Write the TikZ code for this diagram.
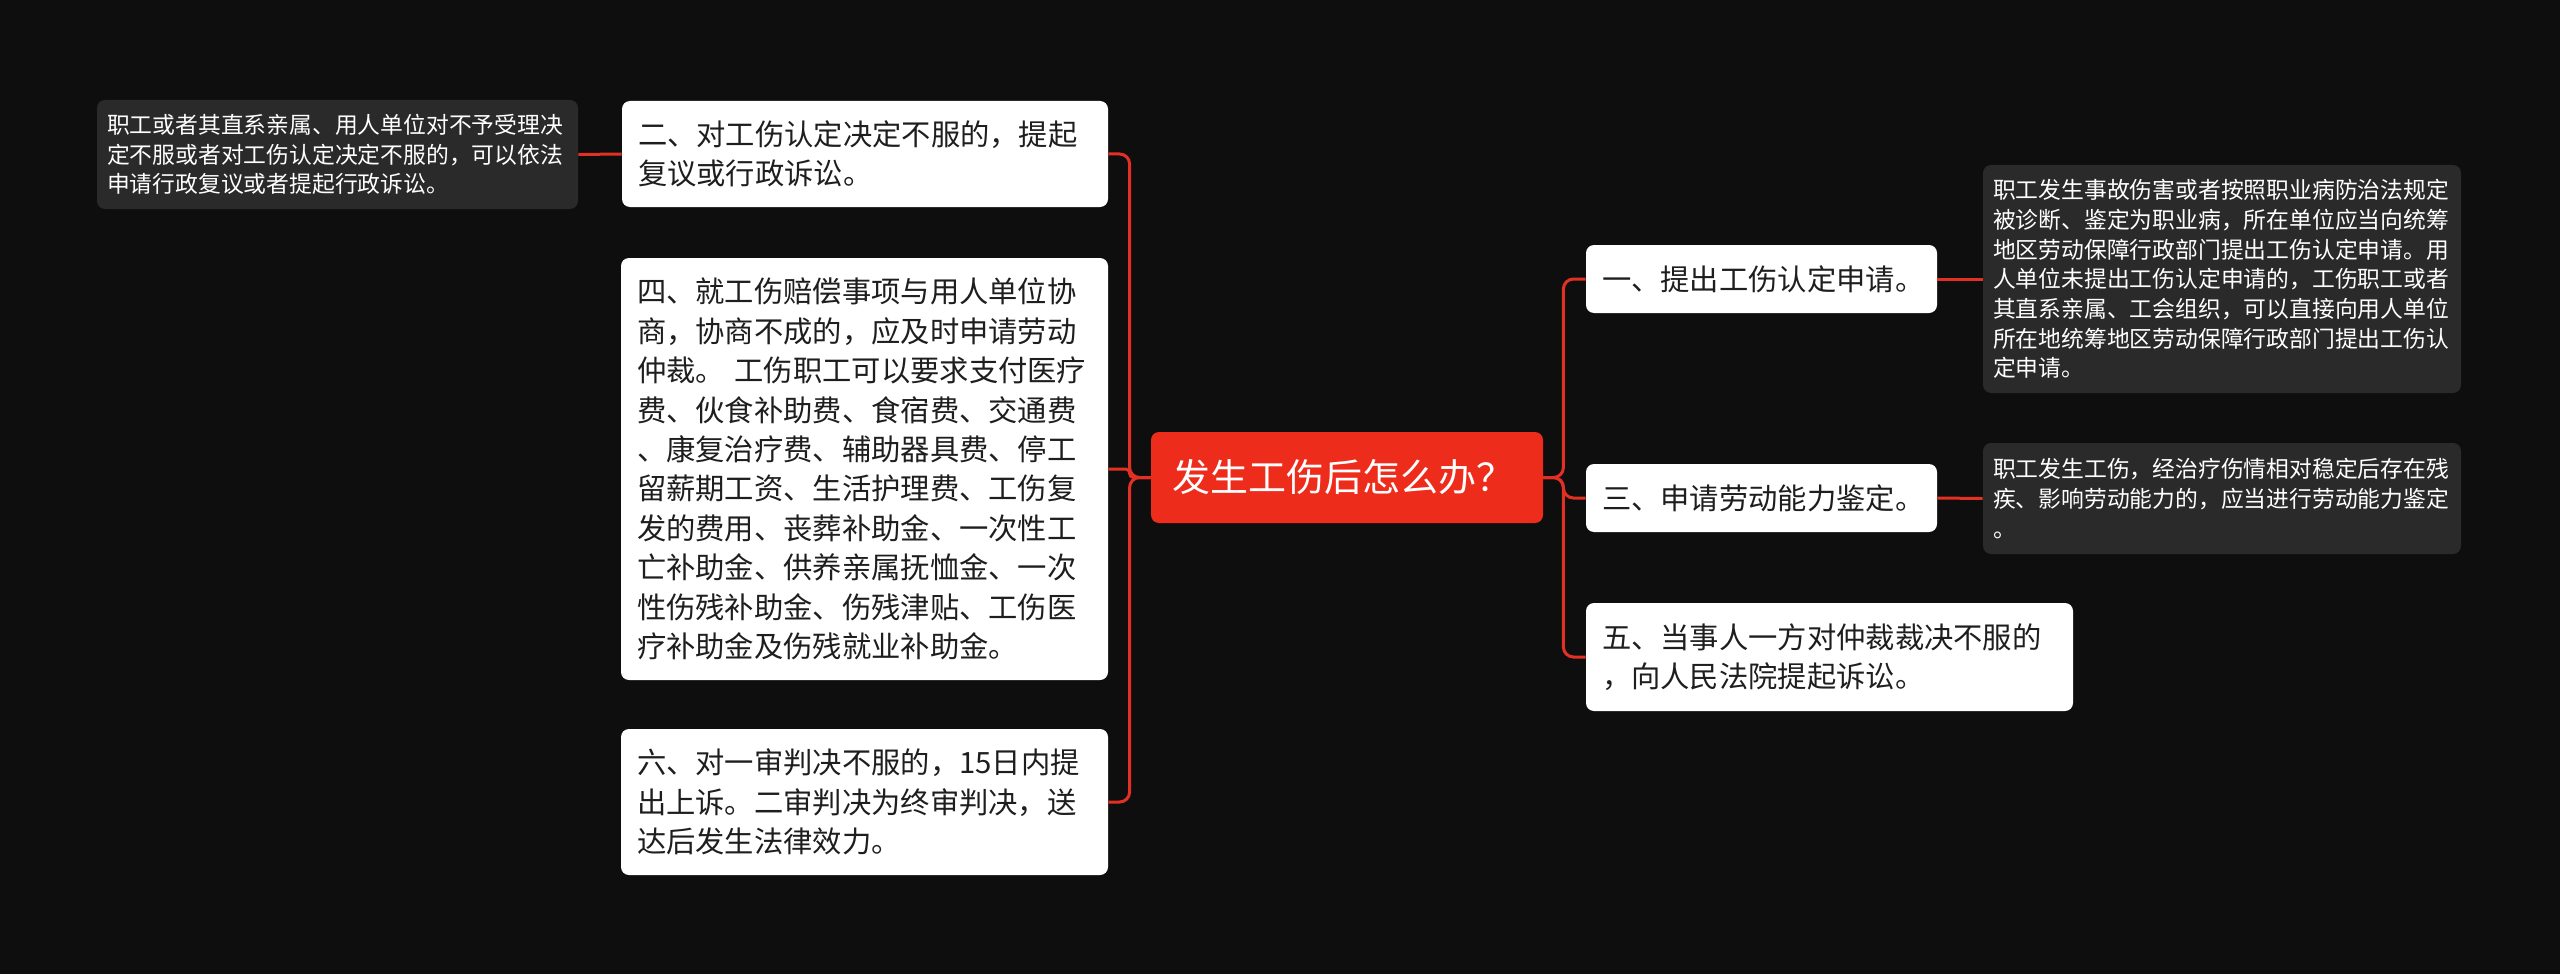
\documentclass[tikz,border=0pt]{standalone}
\usepackage{fontspec}
\setmainfont{Noto Sans CJK SC}
\definecolor{bgblack}{RGB}{14,14,14}
\definecolor{rootred}{RGB}{238,44,28}
\definecolor{linkred}{RGB}{226,48,36}
\definecolor{notegray}{RGB}{42,42,42}
\definecolor{textdark}{RGB}{30,30,30}

\begin{document}
\begin{tikzpicture}[x=0.5pt, y=-0.5pt,
    root/.style={fill=rootred, text=white, rounded corners=4pt, inner xsep=10.5pt, inner ysep=3pt,
      font=\fontsize{19}{23}\selectfont, align=left, text width=175pt, minimum height=45.5pt},
    topic/.style={fill=white, text=textdark, rounded corners=4pt, inner xsep=8pt, inner ysep=3pt,
      font=\fontsize{14.65}{19.7}\selectfont, align=left},
    note/.style={fill=notegray, text=white, rounded corners=4pt, inner xsep=5pt, inner ysep=3pt,
      font=\fontsize{11.4}{14.85}\selectfont, align=left, text width=229pt},
    link/.style={draw=linkred, line width=1.5pt, rounded corners=5pt}]

    \fill[bgblack] (0,0) rectangle (2560,974);
    \useasboundingbox (0,0) rectangle (2560,974);

    \node[root] (root) at (1347,477.5) {发生工伤后怎么办？};

    \node[topic, text width=227pt, minimum height=53pt] (two) at (865,154)
      {二、对工伤认定决定不服的，提起\\复议或行政诉讼。};
    \node[topic, text width=227.5pt, minimum height=211pt] (four) at (864.5,469)
      {四、就工伤赔偿事项与用人单位协\\商，协商不成的，应及时申请劳动\\仲裁。 工伤职工可以要求支付医疗\\费、伙食补助费、食宿费、交通费\\、康复治疗费、辅助器具费、停工\\留薪期工资、生活护理费、工伤复\\发的费用、丧葬补助金、一次性工\\亡补助金、供养亲属抚恤金、一次\\性伤残补助金、伤残津贴、工伤医\\疗补助金及伤残就业补助金。};
    \node[topic, text width=227.5pt, minimum height=73pt] (six) at (864.5,802)
      {六、对一审判决不服的，15日内提\\出上诉。二审判决为终审判决，送\\达后发生法律效力。};
    \node[note, text width=230.5pt, minimum height=54.5pt] (note2) at (337.5,154.5)
      {职工或者其直系亲属、用人单位对不予受理决\\定不服或者对工伤认定决定不服的，可以依法\\申请行政复议或者提起行政诉讼。};

    \node[topic, text width=159.5pt, minimum height=34pt] (one) at (1761.5,279) {一、提出工伤认定申请。};
    \node[topic, text width=159.5pt, minimum height=34pt] (three) at (1761.5,498) {三、申请劳动能力鉴定。};
    \node[topic, text width=227.5pt, minimum height=54pt] (five) at (1829.5,657)
      {五、当事人一方对仲裁裁决不服的\\，向人民法院提起诉讼。};
    \node[note, minimum height=114pt] (note1) at (2222,279)
      {职工发生事故伤害或者按照职业病防治法规定\\被诊断、鉴定为职业病，所在单位应当向统筹\\地区劳动保障行政部门提出工伤认定申请。用\\人单位未提出工伤认定申请的，工伤职工或者\\其直系亲属、工会组织，可以直接向用人单位\\所在地统筹地区劳动保障行政部门提出工伤认\\定申请。};
    \node[note, minimum height=55.5pt] (note3) at (2222,498.5)
      {职工发生工伤，经治疗伤情相对稳定后存在残\\疾、影响劳动能力的，应当进行劳动能力鉴定\\。};

    \draw[link] (root.west) -- ++(-21,0) |- (two.east);
    \draw[link, rounded corners=2pt] (root.west) -- ++(-21,0) |- (four.east);
    \draw[link] (root.west) -- ++(-21,0) |- (six.east);
    \draw[link] (two.west) -- (note2.east);

    \draw[link] (root.east) -- ++(20,0) |- (one.west);
    \draw[link] (root.east) -- ++(20,0) |- (three.west);
    \draw[link] (root.east) -- ++(20,0) |- (five.west);
    \draw[link] (one.east) -- (note1.west);
    \draw[link] (three.east) -- (note3.west);

  \end{tikzpicture}
\end{document}
